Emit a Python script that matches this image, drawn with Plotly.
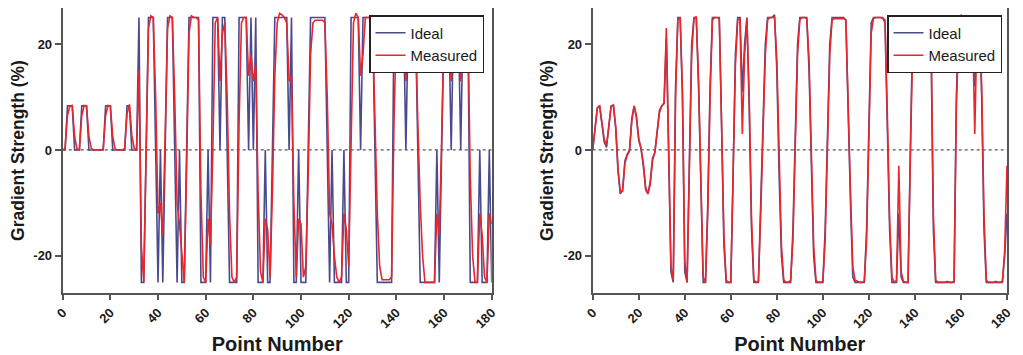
import plotly.graph_objects as go

# ---------------- data ----------------
points = list(range(181))

ideal_left = [
    0, 0, 8.33, 8.33, 8.33, 0, 0, 0, 8.33, 8.33,
    8.33, 0, 0, 0, 0, 0, 0, 0, 8.33, 8.33,
    8.33, 0, 0, 0, 0, 0, 0, 8.33, 8.33, 0,
    0, 0, 25, -25, -25, 0, 25, 25, 25, 0,
    -25, 0, -25, 0, 25, 25, 25, 0, -25, 0,
    -25, -25, 0, 25, 25, 25, 25, 25, -25, -25,
    -25, 0, -25, 25, 25, 25, 0, 25, 25, 0,
    -25, -25, -25, -25, 25, 25, 25, 25, 0, 25,
    0, 25, -25, -25, -25, 0, -25, -25, 0, 25,
    25, 25, 25, 25, 25, 0, 25, -25, -25, 0,
    -25, -25, -25, 0, 25, 25, 25, 25, 25, 25,
    25, 0, -25, 0, -25, -25, -25, -25, 0, -25,
    -25, 25, 25, 25, 25, 0, 25, 25, 25, 25,
    25, 0, -25, -25, -25, -25, -25, -25, -25, 25,
    25, 25, 25, 25, 0, 25, 25, 25, 25, 0,
    -25, -25, -25, -25, -25, -25, -25, 0, -25, 0,
    25, 25, 25, 0, 25, 25, 25, 0, 25, 25,
    25, -25, -25, -25, -25, 0, -25, -25, -25, 0,
    -25,
]

measured_left = [
    0, 0.3, 6.5, 8.3, 8.4, 2.5, 0.2, 0, 6.5, 8.4,
    8.3, 2.5, 0.3, 0, 0, 0, 0, 0.2, 6.5, 8.4,
    8.3, 2.5, 0.2, 0, 0, 0, 0.3, 6.8, 8.6, 2.8,
    0.3, 0, 15, -18, -25, -2, 23, 25.3, 25, 10,
    -12, -10, -16, 3, 23, 25.3, 25, 10, -10, -14,
    -20, -25, -3, 22, 25.3, 25, 25, 24.5, -8, -24,
    -25, -13, -18, 0, 24, 25, 13, 22, 24, 10,
    -12, -24, -25, -24, 5, 24, 25, 25, 14, 18,
    13, 16, -8, -23, -25, -13, -15, -24, -8, 14,
    24, 25.8, 25.5, 25, 24, 13, 14, -10, -24, -13,
    -14, -24, -22, -5, 18, 24, 24.5, 24.5, 24.5, 24.5,
    24, 10, -12, -14, -20, -24, -25, -24, -12, -15,
    -22, 5, 24, 25.8, 25, 14, 18, 25, 25, 25,
    24, 8, -12, -22, -24.5, -24.5, -24.5, -24.5, -24, 5,
    24, 25, 25, 24, 13, 20, 25, 25, 24, 5,
    -10, -20, -25, -25, -25, -25, -25, -12, -16, 2,
    22, 25, 25, 13, 18, 25, 25, 13, 18, 25,
    24, -5, -20, -25, -25, -12, -16, -24, -25, -12,
    -14,
]

ideal_right = [
    0, 4.5, 8, 8.3, 5, 1.5, 0.5, 4.5, 8.3, 8.4,
    4, -4, -8.3, -7.5, -2, -0.8, 0, 6, 8.3, 6,
    1.8, 0.2, -3, -7.5, -8.3, -6, -1.5, -0.5, 3.5, 7.5,
    8.3, 8.8, 21, 0, -23, -25, 12, 25, 25, 10,
    -23, -25, -2, 20, 25, 25, 12, -10, -25, -25,
    -10, 12, 25, 25, 25, 25, 5, -18, -25, -25,
    -25, -5, 18, 25, 25, 11, 20, 25, 8, -15,
    -25, -25, -25, -10, 5, 20, 25, 25, 25, 25.5,
    15, -5, -20, -25, -25, -25, -25, -15, 5, 20,
    25, 25, 25, 25, 15, -5, -20, -25, -25, -25,
    -25, -15, 5, 20, 25, 25, 25, 25, 25, 25,
    24.5, 5, -10, -24, -25, -25, -25, -25, -25, -15,
    5, 24, 25, 25, 25, 25, 25, 24, 5, -15,
    -25, -25, -25, -12, -24, -25, -25, -25, 0, 22,
    25, 25, 25, 25, 25, 25, 25, 20, -15, -25,
    -25, -25, -25, -25, -25, -25, -25, -25, 10, 24,
    25.5, 25, 25, 25, 25, 25, 12, 25, 25, 10,
    -15, -25, -25, -25, -25, -25, -25, -25, -25, -20,
    -12,
]

measured_right = [
    0, 4, 7.8, 8.4, 5.5, 2, 0.8, 4, 8.2, 8.5,
    4.5, -3.5, -8, -7.8, -2.5, -1, -0.2, 5.5, 8.3, 6.5,
    2.2, 0.3, -2.5, -7, -8.3, -6.5, -2, -0.5, 3, 7,
    8.3, 8.8, 23, 0.5, -22, -24.6, 10, 24.6, 25, 11,
    -21, -25, -4, 18, 24.8, 25.2, 13, -8, -24, -25,
    -12, 10, 24.5, 25, 25, 24.8, 7, -16, -24.6, -25,
    -25, -7, 16, 24.6, 24.8, 3, 18, 24.8, 10, -13,
    -24.5, -25, -24.8, -12, 3, 18, 24.6, 25, 25, 25,
    17, -3, -18, -24.5, -25, -25, -24.6, -17, 3, 18,
    24.6, 25, 25, 24.8, 17, -3, -18, -24.6, -25, -25,
    -24.8, -17, 3, 18, 24.5, 24.8, 24.8, 24.8, 24.8, 24.8,
    24.5, 6, -8, -22, -24.6, -24.8, -25, -25, -24.8, -17,
    3, 22, 24.8, 25, 25, 25, 24.8, 24.6, 7, -13,
    -24, -25, -24.6, -3, -23, -24.8, -25, -25, -2, 20,
    24.6, 25, 25, 25, 25, 24.8, 24.8, 22, -12, -24.6,
    -25, -25, -25, -25, -24.8, -25, -25, -24.8, 8, 22,
    24.8, 25, 25, 25, 25, 24.6, 3, 24, 25, 12,
    -12, -24.5, -25, -25, -25, -24.8, -25, -25, -24.8, -19,
    -3,
]

x_tick_vals = [0, 20, 40, 60, 80, 100, 120, 140, 160, 180]
y_tick_vals = [-20, 0, 20]
y_tick_text = ["-20", "0", "20"]
series_names = ["Ideal", "Measured"]

# ---------------- styling ----------------
# the page body has an 8px margin, so the figure is drawn 8px in from the
# window corner; the figure is sized and laid out to compensate.
OFF = 8
W, H = 1023 - 2 * OFF, 355 - OFF
FONT = "Liberation Sans, Arial, Helvetica, sans-serif"
IDEAL_COLOR = "#4b4a8e"
MEAS_COLOR = "#e8262b"
AXIS_COLOR = "#555555"
TEXT_COLOR = "#1a1a1a"

def fx(px):  # window pixel -> paper fraction (x)
    return (px - OFF) / W

def fy(py):  # window pixel -> paper fraction (y)
    return 1 - (py - OFF) / H

y_dom = [fy(293), fy(8)]

fig = go.Figure()

for (ideal, meas, xa, ya, lg) in [
    (ideal_left, measured_left, "x", "y", "legend"),
    (ideal_right, measured_right, "x2", "y2", "legend2"),
]:
    fig.add_trace(go.Scatter(x=points, y=ideal, mode="lines", name=series_names[0],
                             line=dict(color=IDEAL_COLOR, width=1.6),
                             xaxis=xa, yaxis=ya, legend=lg))
    fig.add_trace(go.Scatter(x=points, y=meas, mode="lines", name=series_names[1],
                             line=dict(color=MEAS_COLOR, width=1.6),
                             xaxis=xa, yaxis=ya, legend=lg))

def xaxis_style(domain, anchor):
    return dict(
        domain=domain, anchor=anchor, range=[0, 180],
        tickmode="array", tickvals=x_tick_vals, tickangle=-45,
        ticks="outside", ticklen=5, tickwidth=1.5, tickcolor=AXIS_COLOR,
        showline=True, linecolor=AXIS_COLOR, linewidth=2, mirror=True,
        showgrid=False, zeroline=False, automargin=False,
        ticklabeloverflow="allow",
        tickfont=dict(family=FONT, size=13, color=TEXT_COLOR, weight="bold"),
        title=dict(text="Point Number", standoff=7,
                   font=dict(family=FONT, size=20, color=TEXT_COLOR, weight="bold")),
    )

def yaxis_style(anchor):
    return dict(
        domain=y_dom, anchor=anchor, range=[-27, 26.8],
        tickmode="array", tickvals=y_tick_vals, ticktext=y_tick_text,
        ticks="outside", ticklen=6, tickwidth=1.5, tickcolor=AXIS_COLOR,
        showline=True, linecolor=AXIS_COLOR, linewidth=2, mirror=True,
        showgrid=False, zeroline=False, automargin=False,
        tickfont=dict(family=FONT, size=13, color=TEXT_COLOR, weight="bold"),
        title=dict(text="Gradient Strength (%)", standoff=5,
                   font=dict(family=FONT, size=17.5, color=TEXT_COLOR, weight="bold")),
    )

legend_common = dict(
    xanchor="right", yanchor="top", bgcolor="white",
    bordercolor="#222222", borderwidth=1.5,
    font=dict(family=FONT, size=15, color=TEXT_COLOR),
    tracegroupgap=0,
)

fig.update_layout(
    width=W, height=H, template=None,
    paper_bgcolor="white", plot_bgcolor="white",
    margin=dict(l=0, r=0, t=0, b=0),
    showlegend=True,
    xaxis=xaxis_style([fx(62.7), fx(491.7)], "y"),
    yaxis=yaxis_style("x"),
    xaxis2=xaxis_style([fx(592.7), fx(1007)], "y2"),
    yaxis2=yaxis_style("x2"),
    legend=dict(x=fx(484), y=fy(15), **legend_common),
    legend2=dict(x=fx(1002), y=fy(15), **legend_common),
    shapes=[
        dict(type="line", xref="x", yref="y", x0=0, x1=180, y0=0, y1=0,
             line=dict(color="#555555", width=1.2, dash="dot"), layer="below"),
        dict(type="line", xref="x2", yref="y2", x0=0, x1=180, y0=0, y1=0,
             line=dict(color="#555555", width=1.2, dash="dot"), layer="below"),
    ],
)

fig.write_html("out.html")
